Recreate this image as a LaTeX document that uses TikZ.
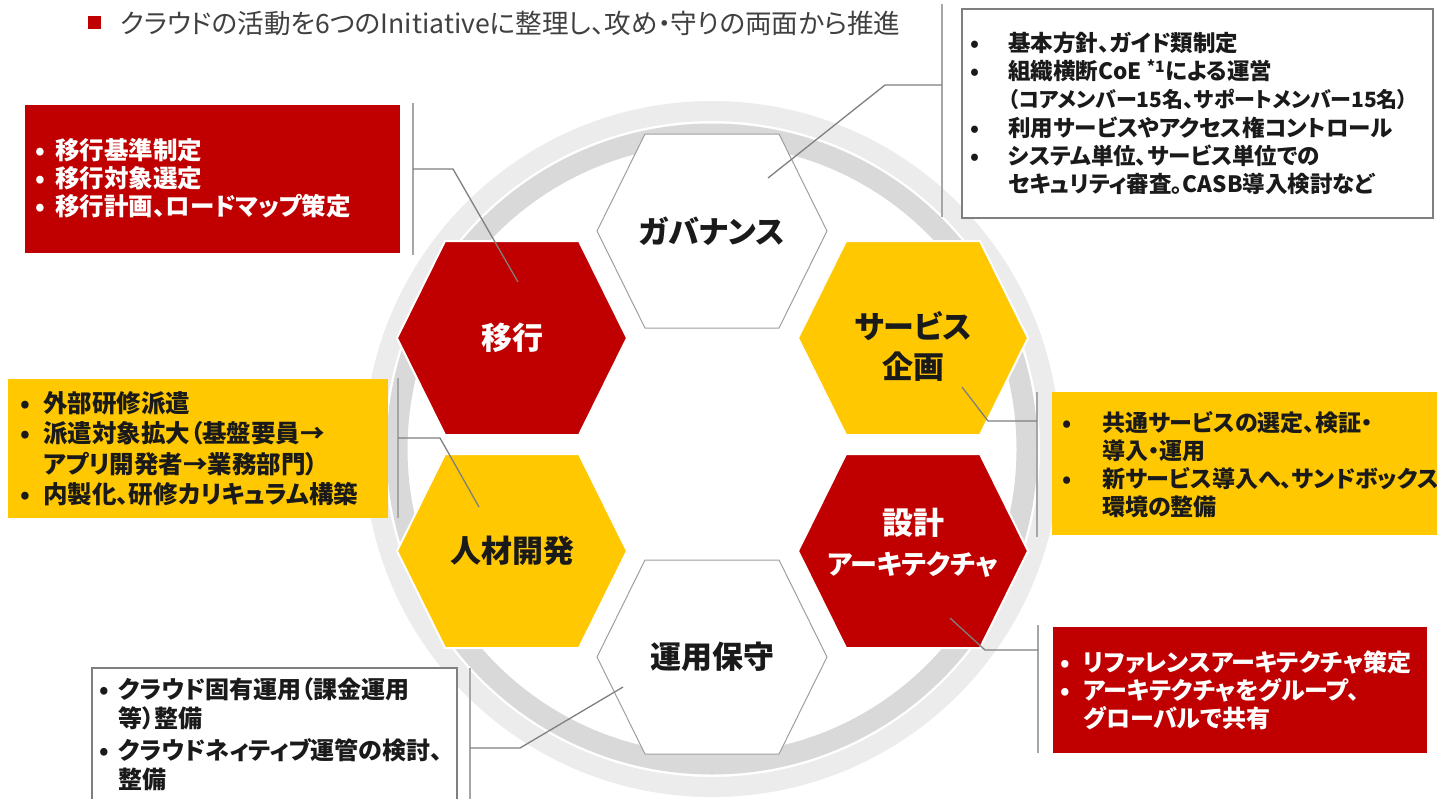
\documentclass[tikz,border=0pt]{standalone}
\usepackage{fontspec}
\setmainfont{Noto Sans CJK JP}[RawFeature=+palt]
\usetikzlibrary{calc}
\definecolor{hred}{HTML}{C00000}
\definecolor{hyel}{HTML}{FFC800}
\definecolor{ringA}{HTML}{D9D9D9}
\definecolor{ringB}{HTML}{ECECEC}
\definecolor{lgray}{HTML}{7F7F7F}
\definecolor{bargray}{HTML}{A6A6A6}
\definecolor{titlegray}{HTML}{404040}
\definecolor{txtdark}{HTML}{1A1A1A}
\newcommand\bul[1]{\makebox[#1][l]{•}}
\newcommand\hexat[2]{\path[#2, shift={(#1)}] (-115,0) -- (-67,-97) -- (67,-97) -- (115,0) -- (67,97) -- (-67,97) -- cycle;}
\tikzset{
  hexred/.style={fill=hred, draw=white, line width=2pt},
  hexyel/.style={fill=hyel, draw=white, line width=2pt},
  hexwhite/.style={fill=white, draw=gray!75, line width=1pt},
  hexlabel/.style={font=\fontsize{31}{40}\selectfont\bfseries, align=center, inner sep=0, text=txtdark},
  conn/.style={draw=lgray, line width=1.3pt},
  bar/.style={draw=bargray, line width=2pt},
  boxbg/.style={anchor=north west, inner sep=0, outer sep=0},
  boxtxt/.style={align=left, inner sep=0, anchor=west, text=txtdark},
}
\begin{document}
\begin{tikzpicture}[x=1pt,y=-1pt]
\useasboundingbox (0,0) rectangle (1437,798);
\fill[white] (0,0) rectangle (1437,798);
% ring
\coordinate (ringc) at (712,449);
\draw[ringB, line width=20pt] (ringc) circle[radius=338];
\draw[ringA, line width=21pt] (ringc) circle[radius=315];
% hex centres
\coordinate (govc) at (712,231);
\coordinate (ikc) at (512,338);
\coordinate (svc) at (913,338);
\coordinate (jzc) at (512,551);
\coordinate (skc) at (913,551);
\coordinate (uyc) at (712,657);
\hexat{govc}{hexwhite}
\hexat{ikc}{hexred}
\hexat{svc}{hexyel}
\hexat{jzc}{hexyel}
\hexat{skc}{hexred}
\hexat{uyc}{hexwhite}
\node[hexlabel] (gov) at (govc) {ガバナンス};
\node[hexlabel, text=white] (ik) at (ikc) {移行};
\node[hexlabel] (sv) at ($(svc)+(0,8)$) {サービス\\企画};
\node[hexlabel] (jz) at (jzc) {人材開発};
\node[hexlabel, text=white] (sk) at ($(skc)+(0,-8)$) {設計\\{\fontsize{27}{40}\selectfont アーキテクチャ}};
\node[hexlabel] (uy) at (uyc) {運用保守};
% title
\node[fill=hred, minimum size=13, inner sep=0] (tsq) at (94.5,22.5) {};
\node[anchor=west, inner sep=0, text=titlegray, font=\fontsize{26.6}{30}\selectfont] (title) at (120,23) {クラウドの活動を6つのInitiativeに整理し、攻め・守りの両面から推進};
% boxes
\node[boxbg, fill=white, draw=lgray, line width=1.5pt, minimum width=471, minimum height=209] (govbox) at (962,9) {};
\node[boxbg, fill=hred, minimum width=375, minimum height=148] (ikbox) at (25,105) {};
\node[boxbg, fill=hyel, minimum width=380, minimum height=139] (jzbox) at (8,379) {};
\node[boxbg, fill=hyel, minimum width=395, minimum height=143] (svbox) at (1052,392) {};
\node[boxbg, fill=hred, minimum width=374, minimum height=126] (skbox) at (1053,627) {};
\node[boxbg, fill=white, draw=lgray, line width=1.5pt, minimum width=365, minimum height=150] (uybox) at (92,668) {};
% bars
\coordinate (govbarT) at (942,4);   \coordinate (govbarB) at (942,217);
\coordinate (ikbarT) at (413,103);  \coordinate (ikbarB) at (413,255);
\coordinate (jzbarT) at (398,378);  \coordinate (jzbarB) at (398,518);
\coordinate (svbarT) at (1037,392); \coordinate (svbarB) at (1037,537);
\coordinate (skbarT) at (1038,625); \coordinate (skbarB) at (1038,753);
\coordinate (uybarT) at (470,668);  \coordinate (uybarB) at (470,800);
\foreach \b in {gov,ik,jz,sv,sk,uy}{\draw[bar] (\b barT) -- (\b barB);}
% connectors
\coordinate (govA) at (768,178); \coordinate (govB) at (885,85);
\coordinate (ikA) at (518,282);  \coordinate (ikB) at (453,169);
\coordinate (jzA) at (479,507);  \coordinate (jzB) at (440,438);
\coordinate (svA) at (962,387);  \coordinate (svB) at (988,421);
\coordinate (skA) at (950,618);  \coordinate (skB) at (985,650);
\coordinate (uyA) at (623,687);  \coordinate (uyB) at (520,748);
\foreach \b in {gov,ik,jz,sv,sk,uy}{\draw[conn] (\b A) -- (\b B) -- (\b B -| \b barT);}
% box texts
\node[boxtxt, font=\fontsize{22.5}{28.2}\selectfont\bfseries] (govtxt) at (970,113.5) {%
\bul{38pt}基本方針、ガイド類制定\\
\bul{38pt}組織横断CoE \textsuperscript{*1}による運営\\
\hspace*{38pt}{\fontsize{21}{28.2}\selectfont（コアメンバー15名、サポートメンバー15名）}\\
\bul{38pt}利用サービスやアクセス権コントロール\\
\bul{38pt}システム単位、サービス単位での\\
\hspace*{38pt}セキュリティ審査。CASB導入検討など};
\node[boxtxt, text=white, font=\fontsize{24.5}{28}\selectfont\bfseries] (iktxt) at (35,178) {%
\bul{20pt}移行基準制定\\
\bul{20pt}移行対象選定\\
\bul{20pt}移行計画、ロードマップ策定};
\node[boxtxt, font=\fontsize{24.5}{30.5}\selectfont\bfseries] (jztxt) at (20,449) {%
\bul{23pt}外部研修派遣\\
\bul{23pt}派遣対象拡大（基盤要員→\\
\hspace*{23pt}アプリ開発者→業務部門）\\
\bul{23pt}内製化、研修カリキュラム構築};
\node[boxtxt, font=\fontsize{23}{28}\selectfont\bfseries] (svtxt) at (1062,465) {%
\bul{40pt}共通サービスの選定、検証・\\
\hspace*{40pt}導入・運用\\
\bul{40pt}新サービス導入へ、サンドボックス\\
\hspace*{40pt}環境の整備};
\node[boxtxt, text=white, font=\fontsize{24}{28}\selectfont\bfseries] (sktxt) at (1060,690) {%
\bul{23pt}リファレンスアーキテクチャ策定\\
\bul{23pt}アーキテクチャをグループ、\\
\hspace*{23pt}グローバルで共有};
\node[boxtxt, font=\fontsize{24}{29}\selectfont\bfseries] (uytxt) at (99,734) {%
\bul{19pt}クラウド固有運用（課金運用\\
\hspace*{19pt}等）整備\\[3pt]
\bul{19pt}クラウドネィティブ運管の検討、\\
\hspace*{19pt}整備};
\end{tikzpicture}
\end{document}
